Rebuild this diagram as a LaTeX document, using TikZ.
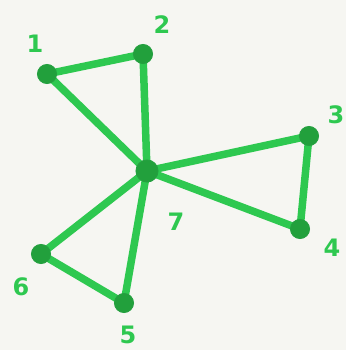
\documentclass[tikz,border=0pt]{standalone}
\usepackage{fontspec}
\setmainfont{DejaVu Sans}
\begin{document}
\begin{tikzpicture}[x=1pt,y=-1pt,
  edge/.style={draw=lineg,line width=7.5pt,line cap=round},
  vert/.style={circle,fill=nodeg,draw=lineg!80!black,line width=1pt,minimum size=19pt,inner sep=0pt},
  lbl/.style={text=lineg,font=\bfseries\fontsize{24}{24}\selectfont}]
\definecolor{lineg}{RGB}{46,200,80}
\definecolor{nodeg}{RGB}{34,160,60}
\definecolor{bg}{RGB}{246,246,242}
\fill[bg] (0,0) rectangle (346,350);
\useasboundingbox (0,0) rectangle (346,350);
\coordinate (p1) at (47,74);
\coordinate (p2) at (143,54);
\coordinate (p3) at (309,136);
\coordinate (p4) at (300,229);
\coordinate (p5) at (124,303);
\coordinate (p6) at (41,254);
\coordinate (p7) at (147,171);
\draw[edge] (p1) -- (p2);
\draw[edge] (p1) -- (p7);
\draw[edge] (p2) -- (p7);
\draw[edge] (p3) -- (p7);
\draw[edge] (p3) -- (p4);
\draw[edge] (p4) -- (p7);
\draw[edge] (p5) -- (p7);
\draw[edge] (p6) -- (p7);
\draw[edge] (p5) -- (p6);
\node[vert] (n1) at (p1) {};
\node[vert] (n2) at (p2) {};
\node[vert] (n3) at (p3) {};
\node[vert] (n4) at (p4) {};
\node[vert] (n5) at (p5) {};
\node[vert] (n6) at (p6) {};
\node[vert,minimum size=22pt] (n7) at (p7) {};
\node[lbl] (l1) at (35,44) {1};
\node[lbl] (l2) at (162,25) {2};
\node[lbl] (l3) at (336,115) {3};
\node[lbl] (l4) at (332,248) {4};
\node[lbl] (l5) at (128,335) {5};
\node[lbl] (l6) at (21,287) {6};
\node[lbl] (l7) at (176,222) {7};
\end{tikzpicture}
\end{document}
